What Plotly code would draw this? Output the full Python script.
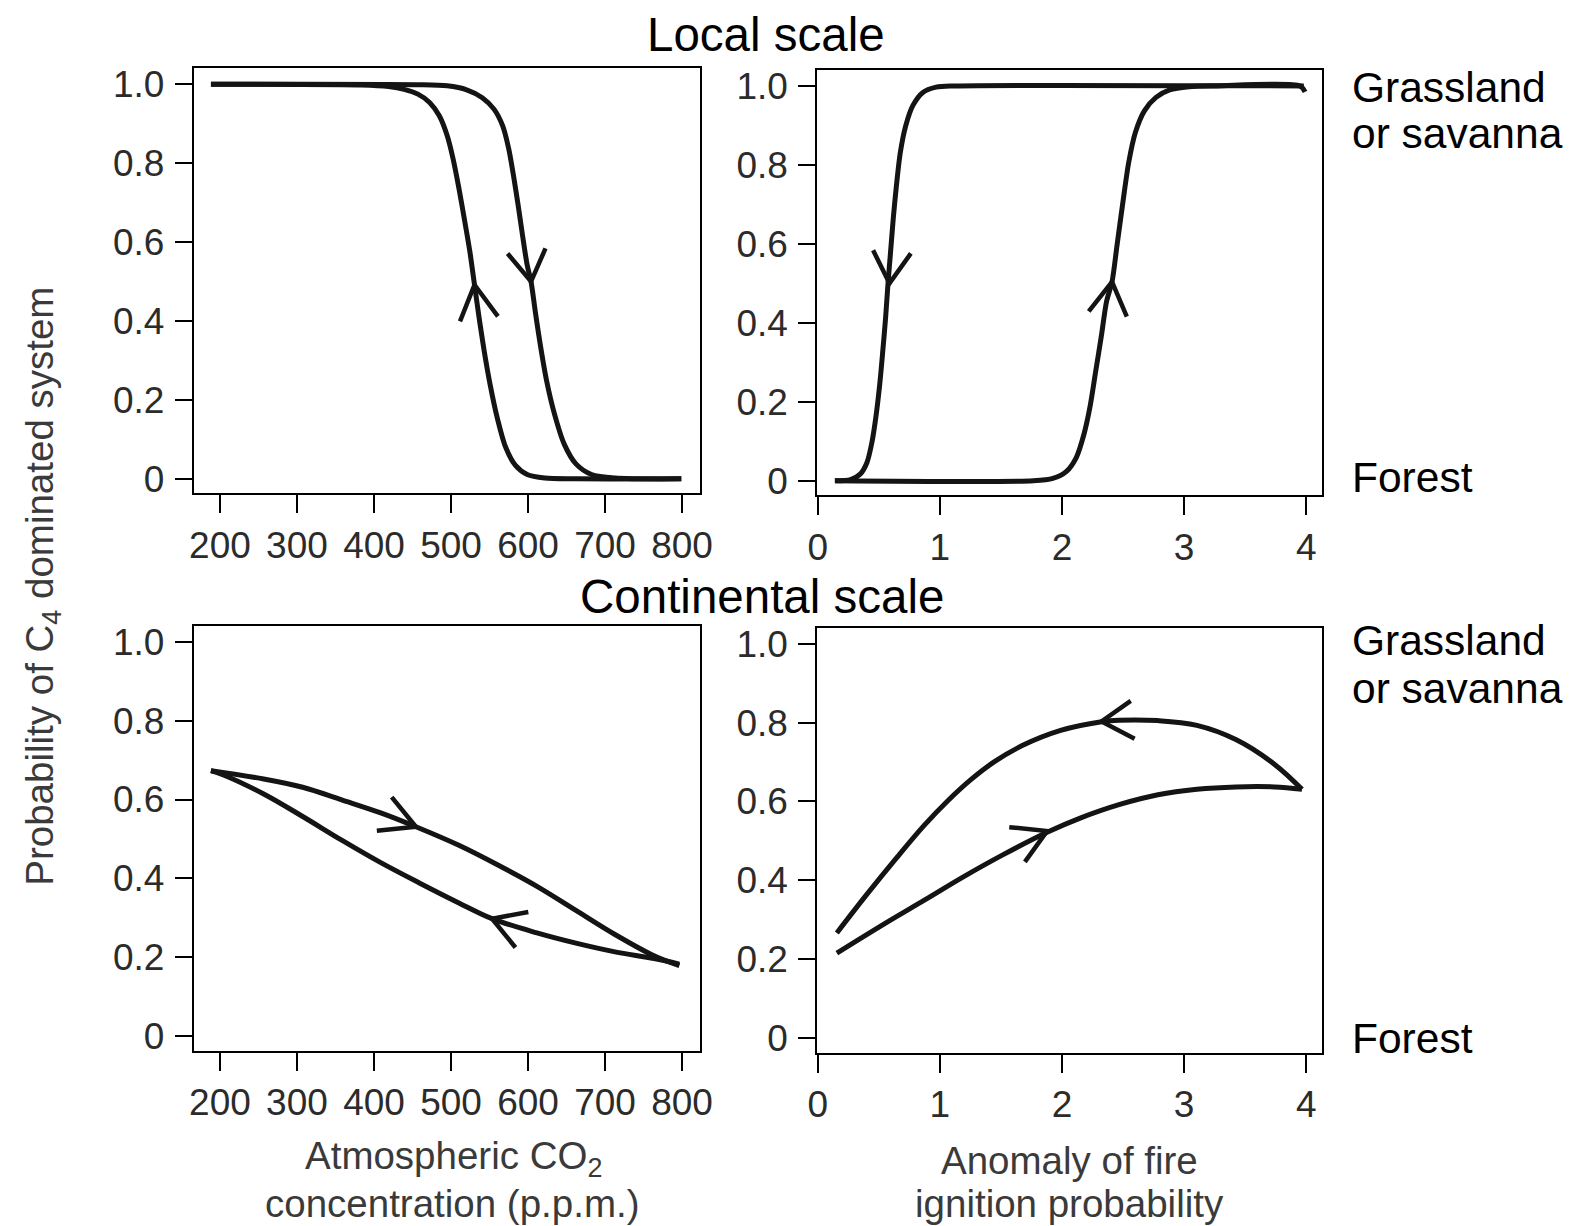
import plotly.graph_objects as go

# ---------------- data ----------------
# Local scale, CO2 (p.p.m.)
co2_local_a_x = [188.3, 383.5, 419, 439.2, 457, 472.2, 484.8, 495, 502.6, 510.2, 517.8, 524.4, 530.5, 536.5, 543.1, 550.7, 559.9, 571, 583.7, 598.9, 621.7, 662, 799]
co2_local_a_y = [1.0, 0.998, 0.994, 0.987, 0.975, 0.954, 0.920, 0.870, 0.812, 0.737, 0.653, 0.577, 0.492, 0.408, 0.324, 0.240, 0.156, 0.080, 0.034, 0.011, 0.002, 0.0, 0.0]
co2_local_b_x = [188.3, 459.5, 495, 520.3, 540.6, 555.8, 567, 575, 581.1, 587.2, 592.8, 598.9, 603.9, 610, 616.6, 624.2, 634.4, 647, 662.2, 682.5, 712.9, 799]
co2_local_b_y = [1.0, 0.999, 0.996, 0.986, 0.966, 0.937, 0.895, 0.836, 0.769, 0.693, 0.618, 0.542, 0.5, 0.416, 0.332, 0.248, 0.164, 0.088, 0.038, 0.011, 0.002, 0.0]

# Local scale, fire anomaly
fire_local_c_x = [0.140, 0.268, 0.347, 0.402, 0.443, 0.475, 0.507, 0.532, 0.555, 0.574, 0.596, 0.618, 0.644, 0.676, 0.720, 0.778, 0.858, 0.969, 1.128, 3.981]
fire_local_c_y = [0.0, 0.003, 0.017, 0.046, 0.097, 0.160, 0.244, 0.328, 0.412, 0.496, 0.580, 0.664, 0.748, 0.832, 0.899, 0.950, 0.983, 0.997, 1.0, 1.0]
fire_local_d_x = [0.140, 1.766, 1.925, 2.037, 2.117, 2.180, 2.228, 2.276, 2.324, 2.365, 2.410, 2.451, 2.499, 2.547, 2.601, 2.675, 2.770, 2.882, 3.041, 3.264, 3.950, 3.991]
fire_local_d_y = [0.0, 0.0, 0.006, 0.024, 0.059, 0.118, 0.185, 0.277, 0.370, 0.454, 0.504, 0.597, 0.706, 0.807, 0.882, 0.937, 0.971, 0.990, 0.998, 1.0, 1.0, 0.985]

# Continental scale, CO2
co2_cont_e_x = [188.3, 256.8, 307.4, 358.1, 408.8, 454.4, 510.2, 560.9, 611.6, 662.2, 712.9, 763.6, 796.5]
co2_cont_e_y = [0.673, 0.652, 0.631, 0.599, 0.566, 0.531, 0.484, 0.434, 0.380, 0.319, 0.258, 0.204, 0.179]
co2_cont_f_x = [796.5, 763.6, 712.9, 662.2, 611.6, 553.3, 510.2, 459.5, 408.8, 358.1, 307.4, 256.8, 206.1, 188.3]
co2_cont_f_y = [0.183, 0.197, 0.214, 0.236, 0.262, 0.298, 0.338, 0.388, 0.440, 0.497, 0.557, 0.614, 0.661, 0.673]

# Continental scale, fire anomaly
fire_cont_g_x = [3.966, 3.742, 3.424, 3.105, 2.786, 2.467, 2.324, 1.989, 1.670, 1.447, 1.256, 1.065, 0.873, 0.650, 0.395, 0.156]
fire_cont_g_y = [0.631, 0.694, 0.757, 0.793, 0.805, 0.806, 0.802, 0.780, 0.741, 0.701, 0.656, 0.602, 0.540, 0.459, 0.362, 0.267]
fire_cont_h_x = [0.156, 0.555, 0.873, 1.192, 1.511, 1.878, 2.149, 2.467, 2.786, 3.105, 3.424, 3.742, 3.966]
fire_cont_h_y = [0.216, 0.292, 0.350, 0.409, 0.464, 0.522, 0.558, 0.592, 0.617, 0.631, 0.637, 0.637, 0.631]

# Direction chevrons: (arm1, tip, arm2) in data units
arrows_co2_local = [[(511.7, 0.399), (530.5, 0.492), (560.9, 0.412)],
                    [(573.5, 0.571), (603.9, 0.5), (622.7, 0.584)]]
arrows_fire_local = [[(0.453, 0.584), (0.587, 0.5), (0.762, 0.576)],
                     [(2.219, 0.429), (2.410, 0.504), (2.531, 0.416)]]
arrows_co2_cont = [[(423.0, 0.606), (454.4, 0.531), (403.7, 0.521)],
                   [(600.4, 0.315), (553.3, 0.298), (583.7, 0.225)]]
arrows_fire_cont = [[(2.563, 0.855), (2.324, 0.803), (2.595, 0.759)],
                    [(1.568, 0.535), (1.878, 0.525), (1.696, 0.447)]]

co2_ticks = [200, 300, 400, 500, 600, 700, 800]
fire_ticks = [0, 1, 2, 3, 4]
prob_ticks = [0, 0.2, 0.4, 0.6, 0.8, 1.0]
prob_labels = ["0", "0.2", "0.4", "0.6", "0.8", "1.0"]

# ---------------- figure ----------------
W, H = 1573, 1226
FONT = "Liberation Sans, Arial, Helvetica, sans-serif"
LINE = "#141414"

fig = go.Figure()

panels = [
    ("x", "y", [(co2_local_a_x, co2_local_a_y), (co2_local_b_x, co2_local_b_y)], arrows_co2_local, 0.8),
    ("x2", "y2", [(fire_local_c_x, fire_local_c_y), (fire_local_d_x, fire_local_d_y)], arrows_fire_local, 0.8),
    ("x3", "y3", [(co2_cont_e_x, co2_cont_e_y), (co2_cont_f_x, co2_cont_f_y)], arrows_co2_cont, 1.0),
    ("x4", "y4", [(fire_cont_g_x, fire_cont_g_y), (fire_cont_h_x, fire_cont_h_y)], arrows_fire_cont, 1.0),
]

for xa, ya, curves, arrows, smooth in panels:
    for cx, cy in curves:
        fig.add_trace(go.Scatter(x=cx, y=cy, xaxis=xa, yaxis=ya, mode="lines",
                                 line=dict(color=LINE, width=5, shape="spline", smoothing=smooth),
                                 hoverinfo="skip", showlegend=False, cliponaxis=False))
    for arm1, tip, arm2 in arrows:
        fig.add_trace(go.Scatter(x=[arm1[0], tip[0], arm2[0]], y=[arm1[1], tip[1], arm2[1]],
                                 xaxis=xa, yaxis=ya, mode="lines",
                                 line=dict(color=LINE, width=4.5),
                                 hoverinfo="skip", showlegend=False))


def px_x(a, b):
    return [a / W, b / W]


def px_y(top, bottom):
    return [1 - bottom / H, 1 - top / H]


tickfont = dict(family=FONT, size=37, color="#2b2b2b")
common = dict(showline=True, mirror=True, linecolor="black", linewidth=2,
              ticks="outside", tickwidth=2, tickcolor="black",
              showgrid=False, zeroline=False, tickfont=tickfont, fixedrange=True)

xdom_left = px_x(186.5, 700)
xdom_right = px_x(819.3, 1331.5)

fig.update_layout(
    width=W, height=H,
    margin=dict(l=0, r=0, t=0, b=0),
    paper_bgcolor="white", plot_bgcolor="white",
    xaxis=dict(domain=xdom_left, anchor="y", range=[166, 823], tickvals=co2_ticks, ticklen=18, **common),
    yaxis=dict(domain=px_y(65, 493.5), anchor="x", range=[-0.037, 1.04], tickvals=prob_ticks, ticktext=prob_labels, ticklen=17, ticklabelstandoff=3, **common),
    xaxis2=dict(domain=xdom_right, anchor="y2", range=[-0.004, 4.13], tickvals=fire_ticks, ticklen=18, **common),
    yaxis2=dict(domain=px_y(66.7, 495.5), anchor="x2", range=[-0.037, 1.04], tickvals=prob_ticks, ticktext=prob_labels, ticklen=17, ticklabelstandoff=3, **common),
    xaxis3=dict(domain=xdom_left, anchor="y3", range=[166, 823], tickvals=co2_ticks, ticklen=18, **common),
    yaxis3=dict(domain=px_y(627, 1055.5), anchor="x3", range=[-0.037, 1.04], tickvals=prob_ticks, ticktext=prob_labels, ticklen=17, ticklabelstandoff=3, **common),
    xaxis4=dict(domain=xdom_right, anchor="y4", range=[-0.004, 4.13], tickvals=fire_ticks, ticklen=18, **common),
    yaxis4=dict(domain=px_y(629, 1057.5), anchor="x4", range=[-0.037, 1.04], tickvals=prob_ticks, ticktext=prob_labels, ticklen=17, ticklabelstandoff=3, **common),
)

ann = []


def text(s, x, y, size, color="black", xanchor="center", yanchor="middle", angle=0):
    ann.append(dict(text=s, x=x / W, y=1 - y / H, xref="paper", yref="paper",
                    xanchor=xanchor, yanchor=yanchor, showarrow=False, textangle=angle,
                    font=dict(family=FONT, size=size, color=color)))


text("Local scale", 767, 31, 47.5)
text("Continental scale", 763, 597, 47.5)

for g_y, s_y, f_y in [(84, 131, 477), (642, 690, 1043)]:
    text("Grassland", 1360, g_y, 42.5, xanchor="left")
    text("or savanna", 1360, s_y, 42.5, xanchor="left")
    text("Forest", 1360, f_y, 42.5, xanchor="left")

TITLE = "#3a3a3a"
text("Probability of C<sub>4</sub> dominated system", 33, 587, 38.5, color=TITLE, angle=-90)
text("Atmospheric CO<sub>2</sub>", 450, 1164, 38.5, color=TITLE)
text("concentration (p.p.m.)", 449, 1209, 38.5, color=TITLE)
text("Anomaly of fire", 1075, 1166, 38.5, color=TITLE)
text("ignition probability", 1075, 1209, 38.5, color=TITLE)

fig.update_layout(annotations=ann)

fig.write_html("out.html")
